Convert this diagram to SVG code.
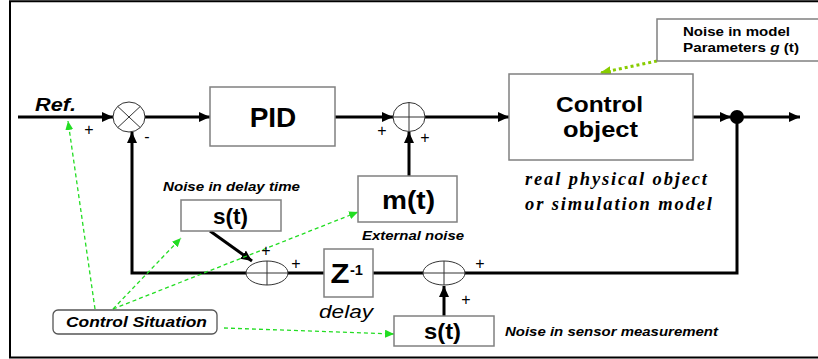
<svg xmlns="http://www.w3.org/2000/svg" width="818" height="359" viewBox="0 0 818 359">
<defs>
<marker id="ah" markerWidth="11" markerHeight="10" refX="11" refY="5" orient="auto" markerUnits="userSpaceOnUse"><path d="M0,0 L11,5 L0,10 z" fill="#000"/></marker>
<marker id="gh" markerWidth="9" markerHeight="8" refX="9" refY="4" orient="auto" markerUnits="userSpaceOnUse"><path d="M0,0 L9,4 L0,8 z" fill="#22dd22"/></marker>
<marker id="yh" markerWidth="11" markerHeight="9" refX="11" refY="4.5" orient="auto" markerUnits="userSpaceOnUse"><path d="M0,0 L11,4.5 L0,9 z" fill="#88cc00"/></marker>
</defs>
<style>
.w{stroke:#000;stroke-width:3;fill:none}
.box{fill:#fff;stroke:#808080;stroke-width:1.5}
.sum{fill:#fff;stroke:#333;stroke-width:1}
.cr{stroke:#333;stroke-width:1}
.g{stroke:#22dd22;stroke-width:1.3;stroke-dasharray:4 3;fill:none}
.y{stroke:#88cc00;stroke-width:3;stroke-dasharray:3 3;fill:none}
.sb{font-family:"Liberation Sans",Arial,sans-serif;font-weight:bold;fill:#000}
.bi{font-family:"Liberation Sans",Arial,sans-serif;font-weight:bold;font-style:italic;fill:#000}
.pl{font-family:"Liberation Sans",Arial,sans-serif;font-size:16px;fill:#000}
.sf{font-family:"Liberation Serif","Times New Roman",serif;font-weight:bold;font-style:italic;font-size:18.5px;fill:#000}
</style>
<g id="frame">
<line x1="10" y1="1" x2="10" y2="358" stroke="#000" stroke-width="2"/>
<line x1="9" y1="1.2" x2="818" y2="1.2" stroke="#000" stroke-width="2"/>
<line x1="9" y1="357.5" x2="818" y2="357.5" stroke="#000" stroke-width="2"/>
</g>
<g id="connectors">
<path class="w" d="M18,117 H113" marker-end="url(#ah)"/>
<path class="w" d="M145,117 H210" marker-end="url(#ah)"/>
<path class="w" d="M335,117 H393" marker-end="url(#ah)"/>
<path class="w" d="M425,117 H509" marker-end="url(#ah)"/>
<path class="w" d="M693,117 H731" marker-end="url(#ah)"/>
<path class="w" d="M737,117 H800" marker-end="url(#ah)"/>
<path class="w" d="M737,117 V273 H132 V132" marker-end="url(#ah)"/>
<path class="w" d="M409,176 V132" marker-end="url(#ah)"/>
<path class="w" d="M444,316 V286" marker-end="url(#ah)" stroke-width="3.5"/>
<path class="w" d="M210,231 L252,261" stroke-width="4" marker-end="url(#ah)"/>
<path class="g" d="M95,309 L68,121" marker-end="url(#gh)"/>
<path class="g" d="M113,309 L181,238" marker-end="url(#gh)"/>
<path class="g" d="M113,309 L358,212" marker-end="url(#gh)"/>
<path class="g" d="M224,328 L394,334" marker-end="url(#gh)"/>
<path class="y" d="M657,61 L600,73" marker-end="url(#yh)"/>
<circle cx="737" cy="117" r="7" fill="#000"/>
</g>
<g id="sum1">
<ellipse class="sum" cx="129" cy="117" rx="16" ry="15"/>
<line class="cr" x1="117.7" y1="106.4" x2="140.3" y2="127.6"/>
<line class="cr" x1="117.7" y1="127.6" x2="140.3" y2="106.4"/>
</g>
<g id="sum2">
<ellipse class="sum" cx="409" cy="117" rx="16" ry="14.5"/>
<line class="cr" x1="393" y1="117" x2="425" y2="117"/>
<line class="cr" x1="409" y1="102.5" x2="409" y2="131.5"/>
</g>
<g id="sum3">
<ellipse class="sum" cx="267" cy="273" rx="21" ry="12"/>
<line class="cr" x1="246" y1="273" x2="288" y2="273"/>
<line class="cr" x1="267" y1="261" x2="267" y2="285"/>
</g>
<g id="sum4">
<ellipse class="sum" cx="444" cy="273" rx="21" ry="12"/>
<line class="cr" x1="423" y1="273" x2="465" y2="273"/>
<line class="cr" x1="444" y1="261" x2="444" y2="285"/>
</g>
<g id="pid">
<rect class="box" x="210" y="87" width="125" height="59"/>
<text class="sb" x="273" y="127" font-size="28" text-anchor="middle">PID</text>
</g>
<g id="control-object">
<rect class="box" x="509" y="74" width="184" height="86"/>
<text class="sb" x="556" y="112" font-size="22" textLength="87" lengthAdjust="spacingAndGlyphs">Control</text>
<text class="sb" x="563" y="137" font-size="22" textLength="75" lengthAdjust="spacingAndGlyphs">object</text>
</g>
<g id="mt">
<rect class="box" x="358" y="176" width="99" height="46"/>
<text class="sb" x="382" y="209" font-size="26" textLength="53" lengthAdjust="spacingAndGlyphs">m(t)</text>
</g>
<g id="st-delay">
<rect class="box" x="181" y="200" width="100" height="31"/>
<text class="sb" x="213" y="224" font-size="22" textLength="35" lengthAdjust="spacingAndGlyphs">s(t)</text>
</g>
<g id="z-delay">
<rect class="box" x="324" y="249" width="49" height="48"/>
<text class="sb" x="330.5" y="282.5" font-size="27" textLength="19" lengthAdjust="spacingAndGlyphs">Z</text>
<text class="sb" x="350" y="275" font-size="14" textLength="13" lengthAdjust="spacingAndGlyphs">-1</text>
</g>
<g id="st-sensor">
<rect class="box" x="394" y="316" width="100" height="30"/>
<text class="sb" x="424" y="339" font-size="22" textLength="37" lengthAdjust="spacingAndGlyphs">s(t)</text>
</g>
<g id="noise-model">
<rect class="box" x="657" y="19" width="170" height="42" stroke="#666"/>
<text class="sb" x="683" y="36" font-size="13" textLength="107" lengthAdjust="spacingAndGlyphs">Noise in model</text>
<text class="sb" x="683" y="52" font-size="13" textLength="116" lengthAdjust="spacingAndGlyphs">Parameters <tspan font-style="italic">g</tspan> (t)</text>
</g>
<g id="control-situation">
<rect x="53" y="310" width="164" height="24" rx="5" fill="#fff" stroke="#555" stroke-width="1.3"/>
<text class="bi" x="66" y="327" font-size="15" textLength="141" lengthAdjust="spacingAndGlyphs">Control Situation</text>
</g>
<g id="labels">
<text class="bi" x="35" y="111" font-size="18" textLength="41" lengthAdjust="spacingAndGlyphs">Ref.</text>
<text class="bi" x="163" y="191" font-size="13" textLength="137" lengthAdjust="spacingAndGlyphs">Noise in delay time</text>
<text class="bi" x="362" y="240" font-size="13" textLength="102" lengthAdjust="spacingAndGlyphs">External noise</text>
<text class="bi" x="505" y="336" font-size="13" textLength="213" lengthAdjust="spacingAndGlyphs">Noise in sensor measurement</text>
<text class="sf" x="525" y="185" textLength="182" lengthAdjust="spacing">real physical object</text>
<text class="sf" x="525" y="210" textLength="187" lengthAdjust="spacing">or simulation model</text>
<text x="319" y="318" font-family="Liberation Sans,Arial,sans-serif" font-style="italic" font-size="18" textLength="54" lengthAdjust="spacingAndGlyphs">delay</text>
<text class="pl" x="89" y="135" text-anchor="middle">+</text>
<text class="pl" x="147" y="142" text-anchor="middle">-</text>
<text class="pl" x="382" y="136" text-anchor="middle">+</text>
<text class="pl" x="425" y="143" text-anchor="middle">+</text>
<text class="pl" x="266" y="256" text-anchor="middle">+</text>
<text class="pl" x="296" y="269" text-anchor="middle">+</text>
<text class="pl" x="480" y="269" text-anchor="middle">+</text>
<text class="pl" x="466" y="305" text-anchor="middle">+</text>
</g>
</svg>
